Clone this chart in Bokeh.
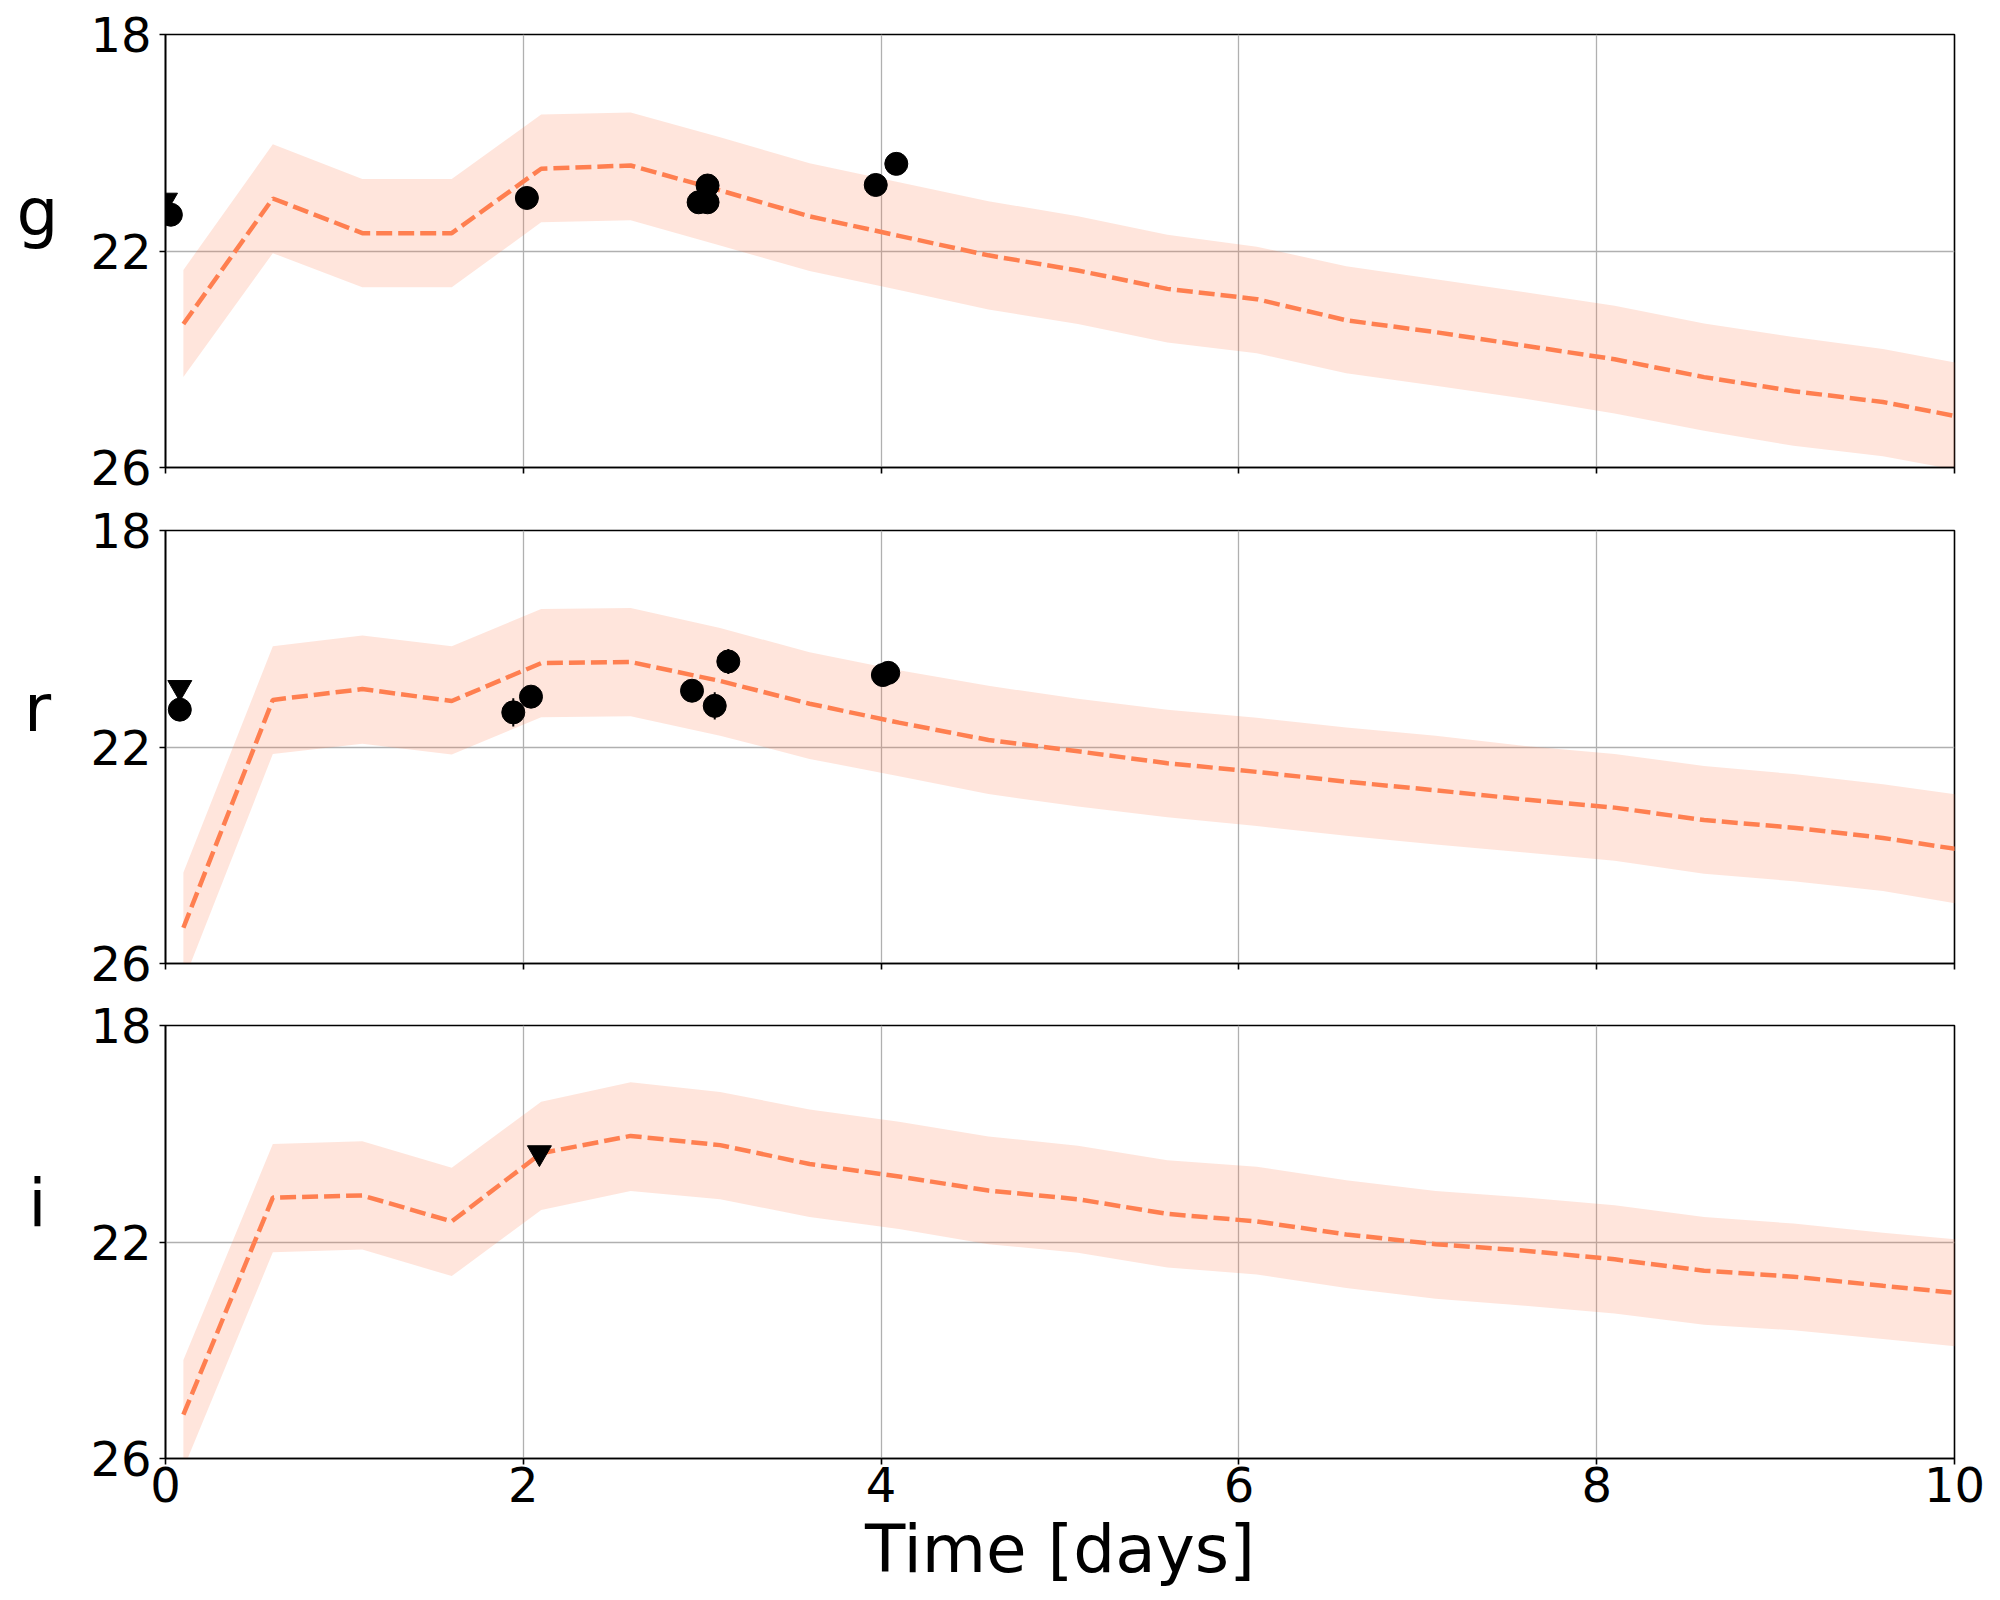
from bokeh.plotting import figure
from bokeh.layouts import column, row
from bokeh.models import Range1d, FixedTicker, CustomJSTickFormatter
from bokeh.core.properties import value
from bokeh.embed import file_html
from bokeh.resources import INLINE

FONT = "DejaVu Sans"

# model time grid (days)
t_model = [0.1, 0.6, 1.1, 1.6, 2.1, 2.6, 3.1, 3.6, 4.1, 4.6, 5.1, 5.6, 6.1,
           6.6, 7.1, 7.6, 8.1, 8.6, 9.1, 9.6, 10.1]

# g band model
g_mean = [23.35, 21.03, 21.67, 21.67, 20.48, 20.42, 20.88, 21.36, 21.72, 22.08, 22.36,
          22.70, 22.89, 23.28, 23.50, 23.75, 24.00, 24.33, 24.59, 24.79, 25.11]
g_up = [22.35, 20.03, 20.67, 20.67, 19.48, 19.44, 19.90, 20.38, 20.73, 21.08, 21.36,
        21.70, 21.92, 22.28, 22.52, 22.76, 23.01, 23.34, 23.59, 23.81, 24.12]
g_dn = [24.33, 22.04, 22.67, 22.67, 21.47, 21.43, 21.90, 22.37, 22.72, 23.08, 23.35,
        23.69, 23.89, 24.26, 24.49, 24.73, 25.00, 25.32, 25.60, 25.79, 26.10]

# r band model
r_mean = [25.34, 21.13, 20.93, 21.15, 20.45, 20.43, 20.78, 21.20, 21.55, 21.87, 22.08,
          22.30, 22.46, 22.64, 22.80, 22.97, 23.12, 23.35, 23.49, 23.68, 23.93]
r_up = [24.32, 20.14, 19.94, 20.14, 19.45, 19.43, 19.80, 20.25, 20.58, 20.87, 21.11,
        21.31, 21.46, 21.64, 21.79, 21.98, 22.13, 22.35, 22.50, 22.69, 22.92]
r_dn = [26.34, 22.13, 21.94, 22.14, 21.45, 21.43, 21.79, 22.22, 22.54, 22.87, 23.10,
        23.30, 23.46, 23.64, 23.80, 23.95, 24.10, 24.34, 24.48, 24.66, 24.94]

# i band model
i_mean = [25.19, 21.18, 21.14, 21.62, 20.36, 20.04, 20.21, 20.56, 20.79, 21.05, 21.21,
          21.48, 21.62, 21.86, 22.04, 22.16, 22.32, 22.53, 22.64, 22.81, 22.97]
i_up = [24.18, 20.19, 20.14, 20.63, 19.41, 19.05, 19.23, 19.55, 19.78, 20.05, 20.22,
        20.49, 20.61, 20.86, 21.06, 21.18, 21.32, 21.54, 21.66, 21.83, 21.98]
i_dn = [26.19, 22.19, 22.14, 22.63, 21.41, 21.06, 21.21, 21.54, 21.76, 22.04, 22.20,
        22.47, 22.60, 22.85, 23.05, 23.18, 23.32, 23.53, 23.63, 23.79, 23.96]

# observed detections (time, mag, error) and upper limits
g_det_t = [0.03, 2.02, 2.98, 3.03, 3.03, 3.97, 4.085]
g_det_m = [21.33, 21.02, 21.10, 21.10, 20.79, 20.78, 20.39]
g_det_e = [0.08, 0.08, 0.10, 0.10, 0.08, 0.08, 0.08]
g_lim_t = [0.0]
g_lim_m = [21.06]

r_det_t = [0.08, 1.944, 2.043, 2.943, 3.07, 3.146, 4.01, 4.04]
r_det_m = [21.31, 21.36, 21.07, 20.96, 21.24, 20.42, 20.67, 20.63]
r_det_e = [0.10, 0.26, 0.10, 0.10, 0.25, 0.23, 0.10, 0.10]
r_lim_t = [0.08]
r_lim_m = [20.90]

i_det_t = []
i_det_m = []
i_det_e = []
i_lim_t = [2.09]
i_lim_m = [20.35]

band_names = ["g", "r", "i"]
band_label_mag = 21.28
x_ticks = [0, 2, 4, 6, 8, 10]
y_ticks = [18, 22, 26]

CORAL = "#ff7f50"
LAB_W = 74


def label_panel(name, top, bottom):
    lp = figure(frame_width=LAB_W, frame_height=433,
                x_range=Range1d(0, 1), y_range=Range1d(26, 18),
                output_backend="svg", toolbar_location=None, title=None,
                x_axis_location=None, y_axis_location=None,
                min_border_left=0, min_border_right=0,
                min_border_top=top, min_border_bottom=bottom,
                background_fill_color="white", border_fill_color="white")
    lp.outline_line_color = None
    lp.grid.visible = False
    lp.text(x=[0.5], y=[band_label_mag], text=[name], text_align="center",
            text_baseline="alphabetic", text_font=value(FONT),
            text_font_size="66px", text_color="black")
    return lp


def make_panel(name, mean, up, dn, det_t, det_m, det_e, lim_t, lim_m,
               top, bottom, last):
    p = figure(frame_width=1789, frame_height=433,
               x_range=Range1d(0, 10), y_range=Range1d(26, 18),
               output_backend="svg", toolbar_location=None, title=None,
               min_border_left=165 - LAB_W, min_border_right=40,
               min_border_top=top, min_border_bottom=bottom,
               background_fill_color="white", border_fill_color="white")
    p.outline_line_color = "black"
    p.outline_line_width = 1.6

    p.varea(x=t_model, y1=up, y2=dn, fill_color=CORAL, fill_alpha=0.2)
    p.line(t_model, mean, line_color=CORAL, line_width=4.5, line_dash="16 6")

    if det_t:
        lo = [m - e for m, e in zip(det_m, det_e)]
        hi = [m + e for m, e in zip(det_m, det_e)]
        p.segment(x0=det_t, y0=lo, x1=det_t, y1=hi, line_color="black", line_width=2)
        p.scatter(det_t, det_m, marker="circle", size=23,
                  fill_color="black", line_color="black")
    if lim_t:
        p.scatter(lim_t, lim_m, marker="inverted_triangle", size=24,
                  fill_color="black", line_color="black")

    p.xaxis.ticker = FixedTicker(ticks=x_ticks)
    p.yaxis.ticker = FixedTicker(ticks=y_ticks)
    for ax in (p.xaxis[0], p.yaxis[0]):
        ax.axis_line_color = "black"
        ax.axis_line_width = 1.6
        ax.major_tick_line_color = "black"
        ax.major_tick_line_width = 1.6
        ax.major_tick_out = 6
        ax.major_tick_in = 0
        ax.minor_tick_line_color = None
        ax.major_label_text_font = FONT
        ax.major_label_text_font_size = "48px"
        ax.major_label_text_color = "black"
    p.yaxis.major_label_standoff = 8
    p.xaxis.major_label_standoff = 2

    if last:
        p.xaxis.axis_label = "Time [days]"
        p.xaxis.axis_label_text_font = FONT
        p.xaxis.axis_label_text_font_size = "66px"
        p.xaxis.axis_label_text_font_style = "normal"
        p.xaxis.axis_label_text_color = "black"
        p.xaxis.axis_label_standoff = 6
    else:
        p.xaxis.formatter = CustomJSTickFormatter(code="return ''")

    for g in (p.xgrid[0], p.ygrid[0]):
        g.grid_line_color = "#b0b0b0"
        g.grid_line_width = 1.3

    return row(label_panel(name, top, bottom), p, spacing=0)


r1 = make_panel(band_names[0], g_mean, g_up, g_dn, g_det_t, g_det_m, g_det_e,
                g_lim_t, g_lim_m, 34, 31, False)
r2 = make_panel(band_names[1], r_mean, r_up, r_dn, r_det_t, r_det_m, r_det_e,
                r_lim_t, r_lim_m, 32, 31, False)
r3 = make_panel(band_names[2], i_mean, i_up, i_dn, i_det_t, i_det_m, i_det_e,
                i_lim_t, i_lim_m, 31, 130, True)

layout = column(r1, r2, r3, spacing=0)

open("out.html", "w").write(file_html(layout, INLINE))
